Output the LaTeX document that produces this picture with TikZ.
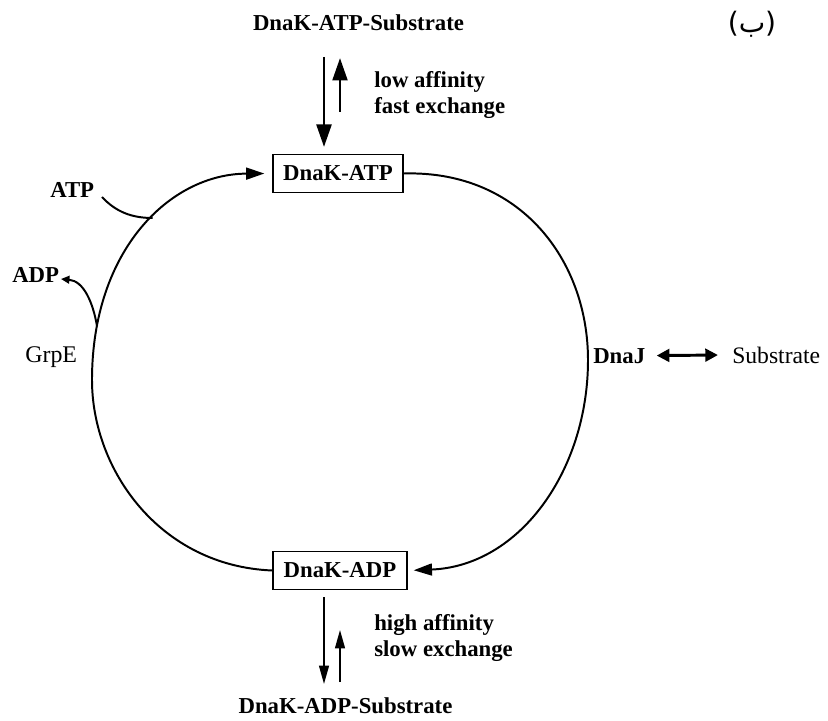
\documentclass[tikz,border=0pt]{standalone}
\usepackage{fontspec}
\setmainfont{Liberation Serif}
\newfontfamily\arabicfont[Script=Arabic]{DejaVu Sans}
\newfontfamily\dejavu{DejaVu Sans}
\TeXXeTstate=1
\usetikzlibrary{arrows.meta}

\begin{document}
\begin{tikzpicture}[x=0.025cm, y=-0.025cm, font=\fontsize{16.2}{18.5}\selectfont\bfseries,
  box/.style={draw, line width=0.9pt, inner sep=0pt, minimum height=0.95cm},
  lbl/.style={anchor=base west, inner sep=0pt},
  note/.style={anchor=west, inner sep=0pt, align=left},
  loop/.style={line width=1.4pt, -{Triangle[length=13pt, width=8.5pt]}},
  bigarr/.style={line width=2.1pt, -{Triangle[length=16pt, width=10.5pt]}},
  thinarr/.style={line width=1.1pt, -{Triangle[length=13pt, width=7pt]}}]
\useasboundingbox (0,0) rectangle (828,721);
% boxes and labels
\node[box, minimum width=3.25cm] (atp) at (338,173.5) {DnaK-ATP};
\node[box, minimum width=3.35cm] (adp) at (340,570.5) {DnaK-ADP};
\node[anchor=base, inner sep=0pt] (atpsub) at (358.5,31) {DnaK-ATP-Substrate};
\node[anchor=base, inner sep=0pt] (adpsub) at (345.5,713) {DnaK-ADP-Substrate};
\node[note] (low) at (374,95) {low affinity\\fast exchange};
\node[note] (high) at (374,638) {high affinity\\slow exchange};
\node[lbl] (dnaj) at (593,363) {DnaJ};
\node[lbl, font=\fontsize{16.8}{18.5}\selectfont] (sub) at (732,363) {Substrate};
\node[lbl] (atpl) at (50,198) {ATP};
\node[lbl] (adpl) at (12,282) {ADP};
\node[lbl, font=\fontsize{17}{18.5}\selectfont] (grpe) at (25,362) {GrpE};
\node[anchor=base, inner sep=0pt, font=\dejavu\fontsize{20}{22}\selectfont] (tag) at (752,33) {({\arabicfont\beginR ب\endR})};
% exchange arrows
\coordinate (t1) at (324,57);  \coordinate (t2) at (324,147);
\coordinate (t3) at (340,112); \coordinate (t4) at (340,58);
\coordinate (b1) at (324,597); \coordinate (b2) at (324,684);
\coordinate (b3) at (340,682); \coordinate (b4) at (340,630);
\draw[bigarr] (t1) -- (t2);
\draw[bigarr] (t3) -- (t4);
\draw[thinarr] (b1) -- (b2);
\draw[thinarr] (b3) -- (b4);
% cycle
\draw[loop, shorten >=4.3pt] (atp.east) .. controls (520,170) and (588,260) .. (588,360)
  .. controls (588,470) and (520,566) .. (adp.east);
\draw[loop, shorten >=5.7pt] (adp.west) .. controls (160,566) and (92,470) .. (92,380)
  .. controls (92,250) and (170,174) .. (atp.west);
\coordinate (atps) at (102,197);  \coordinate (atpj) at (152.6,218);
\coordinate (grpj) at (97,326);   \coordinate (adpt) at (61,279);
\draw[line width=1.4pt] (atps) .. controls (116,212) and (132,218) .. (atpj);
\draw[line width=1.4pt, -{Triangle[length=6pt, width=5.5pt]}] (grpj) .. controls (93,303) and (84,281) .. (adpt);
\draw[line width=2.1pt, {Triangle[length=9pt, width=9pt]}-{Triangle[length=9pt, width=9pt]}, shorten <=8pt, shorten >=10pt] (dnaj.east) -- (sub.west);
\end{tikzpicture}
\end{document}
